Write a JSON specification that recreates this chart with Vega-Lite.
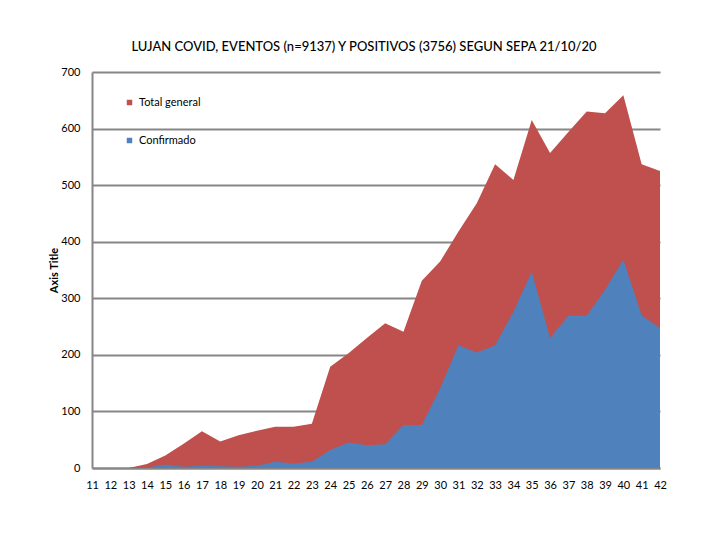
{
  "$schema": "https://vega.github.io/schema/vega-lite/v6.json",
  "autosize": "none",
  "width": 568,
  "height": 396,
  "padding": {"left": 92, "top": 72, "right": 60, "bottom": 72},
  "background": "white",
  "title": {
    "text": "LUJAN COVID, EVENTOS (n=9137) Y POSITIVOS (3756)  SEGUN SEPA 21/10/20",
    "font": "Lato",
    "fontSize": 13,
    "fontWeight": 500,
    "color": "#000000",
    "anchor": "middle",
    "dx": -12,
    "offset": 12
  },
  "data": {
    "values": [
      {"semana": 11, "total": null, "confirmado": null},
      {"semana": 12, "total": null, "confirmado": null},
      {"semana": 13, "total": 0, "confirmado": 0},
      {"semana": 14, "total": 7, "confirmado": 1},
      {"semana": 15, "total": 22, "confirmado": 6},
      {"semana": 16, "total": 43, "confirmado": 2},
      {"semana": 17, "total": 65, "confirmado": 4},
      {"semana": 18, "total": 47, "confirmado": 3},
      {"semana": 19, "total": 58, "confirmado": 2},
      {"semana": 20, "total": 66, "confirmado": 4},
      {"semana": 21, "total": 73, "confirmado": 11},
      {"semana": 22, "total": 73, "confirmado": 8},
      {"semana": 23, "total": 78, "confirmado": 11},
      {"semana": 24, "total": 179, "confirmado": 32},
      {"semana": 25, "total": 203, "confirmado": 45},
      {"semana": 26, "total": 230, "confirmado": 40},
      {"semana": 27, "total": 256, "confirmado": 42},
      {"semana": 28, "total": 241, "confirmado": 76},
      {"semana": 29, "total": 331, "confirmado": 76},
      {"semana": 30, "total": 365, "confirmado": 141},
      {"semana": 31, "total": 418, "confirmado": 217},
      {"semana": 32, "total": 468, "confirmado": 204},
      {"semana": 33, "total": 537, "confirmado": 217},
      {"semana": 34, "total": 509, "confirmado": 276},
      {"semana": 35, "total": 615, "confirmado": 347},
      {"semana": 36, "total": 557, "confirmado": 230},
      {"semana": 37, "total": 594, "confirmado": 269},
      {"semana": 38, "total": 630, "confirmado": 269},
      {"semana": 39, "total": 627, "confirmado": 315},
      {"semana": 40, "total": 659, "confirmado": 368},
      {"semana": 41, "total": 537, "confirmado": 270},
      {"semana": 42, "total": 525, "confirmado": 247}
    ]
  },
  "encoding": {
    "x": {
      "field": "semana",
      "type": "quantitative",
      "scale": {"domain": [11, 42], "nice": false, "zero": false},
      "axis": {
        "title": null,
        "values": [11, 12, 13, 14, 15, 16, 17, 18, 19, 20, 21, 22, 23, 24, 25, 26, 27, 28, 29, 30, 31, 32, 33, 34, 35, 36, 37, 38, 39, 40, 41, 42],
        "format": "d",
        "grid": false,
        "ticks": false,
        "labelPadding": 11,
        "labelFlush": false
      }
    }
  },
  "layer": [
    {
      "mark": {"type": "area", "opacity": 1},
      "encoding": {
        "y": {
          "field": "total",
          "type": "quantitative",
          "scale": {"domain": [0, 700]},
          "axis": {
            "title": "Axis Title",
            "values": [0, 100, 200, 300, 400, 500, 600, 700],
            "grid": true,
            "ticks": false,
            "labelPadding": 12,
            "titlePadding": 1
          }
        },
        "color": {"datum": "Total general"}
      }
    },
    {
      "mark": {"type": "area", "opacity": 1},
      "encoding": {
        "y": {"field": "confirmado", "type": "quantitative"},
        "color": {"datum": "Confirmado"}
      }
    }
  ],
  "resolve": {"scale": {"color": "shared"}},
  "config": {
    "view": {"stroke": null},
    "font": "Lato",
    "axis": {
      "domainColor": "#868686",
      "domainWidth": 2,
      "gridColor": "#868686",
      "gridWidth": 2,
      "labelFont": "Lato",
      "labelFontSize": 11,
      "labelColor": "#000000",
      "titleFont": "Lato",
      "titleFontSize": 11,
      "titleFontWeight": "bold",
      "titleColor": "#000000"
    },
    "range": {"category": ["#C0504D", "#4F81BD"]},
    "legend": {
      "orient": "none",
      "legendX": 32,
      "legendY": 25,
      "title": null,
      "symbolType": "square",
      "symbolSize": 30,
      "rowPadding": 26,
      "labelFont": "Lato",
      "labelFontSize": 11,
      "labelColor": "#000000",
      "symbolStrokeWidth": 0
    }
  }
}
